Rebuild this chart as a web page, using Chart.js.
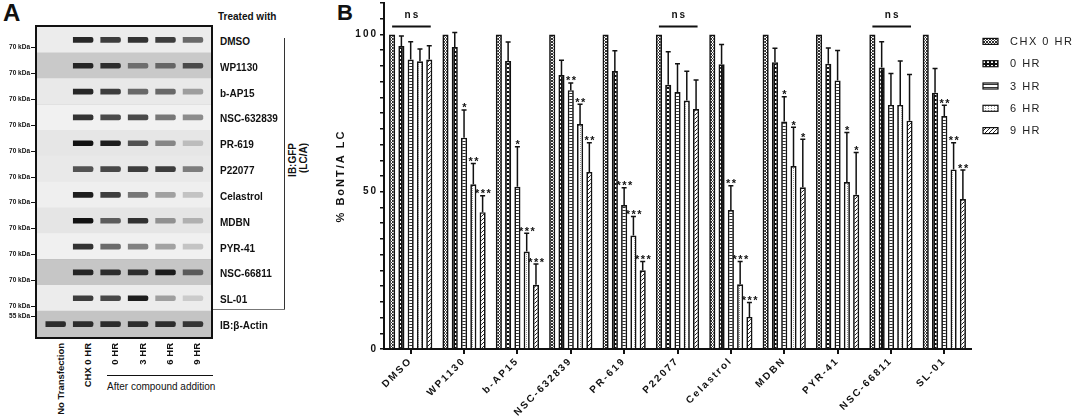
<!DOCTYPE html>
<html>
<head>
<meta charset="utf-8">
<script src="https://cdn.jsdelivr.net/npm/chart.js@4.4.1/dist/chart.umd.min.js"></script>
<style>
  body { margin: 0; background: #fff; font-family: "Liberation Sans", Arial, sans-serif; color: #111; }
  #page { position: relative; width: 1072px; height: 416px; overflow: hidden; }
  .abs { position: absolute; white-space: nowrap; }
  .b { font-weight: bold; }
  #blot { position: absolute; left: 35px; top: 25px; width: 174px; height: 310px; border: 2px solid #111; }
  #chartB { position: absolute; left: 330px; top: 0; width: 742px; height: 416px; }
  .vlab { writing-mode: vertical-rl; transform: rotate(180deg); font: bold 9.5px "Liberation Sans", Arial; line-height: 12px; width: 12px; }
</style>
</head>
<body>
<div id="page">
  <div class="abs b" style="left:3px;top:-1px;font-size:24px;">A</div>
  <div class="abs b" style="left:218px;top:11px;font-size:10px;">Treated with</div>
  <div id="blot"><canvas id="blotChart"></canvas></div>
  <div class="abs" style="left:284px;top:38px;width:1px;height:271px;background:#333;"></div>
  <div class="abs" style="left:213px;top:309px;width:72px;height:1px;background:#777;"></div>
  <div class="abs vlab" style="left:287px;top:143px;font-size:10px;">IB:GFP</div>
  <div class="abs vlab" style="left:298px;top:143px;font-size:10px;">(LC/A)</div>
  <div class="abs" style="left:107px;top:375px;width:106px;height:1px;background:#111;"></div>
  <div class="abs" style="left:107px;top:381px;font-size:10px;">After compound addition</div>
  <div class="abs b" style="left:337px;top:0px;font-size:22px;">B</div>
  <div id="chartB"><canvas id="barChart"></canvas></div>
</div>

<script>
// ---------- panel A data (western blot) ----------
const blotRows = ['DMSO', 'WP1130', 'b-AP15', 'NSC-632839', 'PR-619', 'P22077', 'Celastrol',
                  'MDBN', 'PYR-41', 'NSC-66811', 'SL-01', 'IB:β-Actin'];
const kdaLabels = ['70 kDa', '70 kDa', '70 kDa', '70 kDa', '70 kDa', '70 kDa', '70 kDa',
                   '70 kDa', '70 kDa', '70 kDa', '70 kDa', '55 kDa'];
const lanes = ['No Transfection', 'CHX 0 HR', '0 HR', '3 HR', '6 HR', '9 HR'];
// band darkness per lane (0 = no band), one value per blot row
const laneNoTf = [0, 0, 0, 0, 0, 0, 0, 0, 0, 0, 0, 0.85];
const laneChx  = [0.9, 0.9, 0.9, 0.85, 1, 0.7, 0.95, 1, 0.85, 0.9, 0.8, 0.85];
const lane0    = [0.8, 0.85, 0.8, 0.75, 0.95, 0.75, 0.8, 0.65, 0.6, 0.85, 0.75, 0.85];
const lane3    = [0.85, 0.5, 0.6, 0.75, 0.7, 0.8, 0.55, 0.85, 0.5, 0.85, 0.95, 0.85];
const lane6    = [0.8, 0.55, 0.6, 0.55, 0.45, 0.8, 0.35, 0.4, 0.35, 0.95, 0.35, 0.85];
const lane9    = [0.6, 0.7, 0.35, 0.45, 0.2, 0.5, 0.2, 0.25, 0.2, 0.6, 0.15, 0.8];
const laneValues = [laneNoTf, laneChx, lane0, lane3, lane6, lane9];
const rowShades = ['#ececec', '#c9c9c9', '#e9e9e9', '#f1f1f1', '#e6e6e6', '#e9e9e9', '#efefef',
                   '#e5e5e5', '#f0f0f0', '#c6c6c6', '#ececec', '#c4c4c4'];

// ---------- panel B data ----------
const categories = ['DMSO', 'WP1130', 'b-AP15', 'NSC-632839', 'PR-619', 'P22077', 'Celastrol',
                    'MDBN', 'PYR-41', 'NSC-66811', 'SL-01'];
const seriesNames = ['CHX 0 HR', '0 HR', '3 HR', '6 HR', '9 HR'];
const chx0  = [100, 100, 100, 100, 100, 100, 100, 100, 100, 100, 100];
const hr0   = [96.3, 96, 91.6, 87.1, 88.4, 84, 90.5, 91.2, 90.7, 89.5, 81.5];
const hr3   = [92, 67.2, 51.6, 82.3, 45.8, 81.7, 44.2, 72.3, 85.4, 77.6, 74.1];
const hr6   = [91.5, 52.4, 31, 71.5, 36.1, 79, 20.6, 58.2, 53.1, 77.6, 57.1];
const hr9   = [92, 43.5, 20.4, 56.3, 25, 76.3, 10.2, 51.4, 49, 72.6, 47.7];
const hr0Err = [3.2, 4.6, 6.0, 4.7, 6.4, 10.5, 6.3, 4.4, 5.0, 8.2, 7.7];
const hr3Err = [5.7, 8.8, 12.7, 2.3, 5.5, 9.0, 7.7, 7.9, 9.5, 10.0, 3.4];
const hr6Err = [3.9, 6.6, 5.8, 6.3, 6.0, 9.3, 7.2, 12.3, 15.7, 14.0, 8.5];
const hr9Err = [4.4, 5.2, 6.6, 9.3, 2.8, 9.2, 4.6, 15.3, 13.5, 14.7, 9.2];
const hr3Stars = ['', '*', '*', '**', '***', '', '**', '*', '', '', '**'];
const hr6Stars = ['', '**', '***', '**', '***', '', '***', '*', '*', '', '**'];
const hr9Stars = ['', '***', '***', '**', '***', '', '***', '*', '*', '', '**'];
const nsGroups = ['DMSO', 'P22077', 'NSC-66811'];
const yTickLabels = [0, 50, 100];

const FONT = '"Liberation Sans", Arial, sans-serif';
Chart.defaults.font.family = FONT;
Chart.defaults.color = '#111';

// ---------- panel A ----------
const page = document.getElementById('page');
function addText(txt, css, cls) {
  const d = document.createElement('div');
  d.className = 'abs ' + (cls || '');
  d.textContent = txt;
  Object.assign(d.style, css);
  page.appendChild(d);
  return d;
}

const rowTop = 27, rowH = 310 / 12;
blotRows.forEach((name, i) => {
  const yc = rowTop + (i + 0.5) * rowH;
  addText(name, { left: '220px', top: (yc - 4) + 'px', font: 'bold 10px ' + FONT, lineHeight: '12px' });
  const ky = i === blotRows.length - 1 ? yc - 8.5 : yc + 7.5;
  addText(kdaLabels[i], { right: (1072 - 30) + 'px', top: (ky - 4) + 'px', font: 'bold 6.5px ' + FONT, lineHeight: '8px' });
  addText('', { left: '31px', top: ky + 'px', width: '4px', height: '1px', background: '#111' });
});

// lane labels below the blot
const laneX0 = 60.7, laneStep = 27.3;
lanes.forEach((l, k) => {
  addText(l, { left: (laneX0 + k * laneStep - 6) + 'px', top: '343px' }, 'vlab');
});

const xMin = 0.319, xMax = 6.656;
const blotDatasets = laneValues.map((vals, k) => ({
  band: true,
  data: blotRows.map(() => [k + 1 - 0.36, k + 1 + 0.36]),
  backgroundColor: ctx => 'rgba(18,18,18,' + vals[ctx.dataIndex] + ')',
  grouped: false,
  barThickness: 5,
  borderRadius: 2,
  order: 1
}));
blotDatasets.push({
  data: blotRows.map(() => [xMin, xMax]),
  backgroundColor: rowShades,
  grouped: false,
  categoryPercentage: 1,
  barPercentage: 1,
  order: 5
});

const bandBlur = {
  id: 'bandBlur',
  beforeDatasetDraw(chart, args) {
    if (args.meta._dataset.band) { chart.ctx.save(); chart.ctx.filter = 'blur(0.7px)'; }
  },
  afterDatasetDraw(chart, args) {
    if (args.meta._dataset.band) chart.ctx.restore();
  }
};

new Chart(document.getElementById('blotChart'), {
  type: 'bar',
  data: { labels: blotRows, datasets: blotDatasets },
  options: {
    indexAxis: 'y',
    responsive: true,
    maintainAspectRatio: false,
    animation: false,
    layout: { padding: 0 },
    plugins: { legend: { display: false }, tooltip: { enabled: false } },
    scales: {
      x: { type: 'linear', display: false, min: xMin, max: xMax },
      y: {
        z: 1,
        ticks: { display: false },
        border: { display: false },
        grid: { offset: true, color: '#111', lineWidth: 1.5, drawTicks: false }
      }
    }
  },
  plugins: [bandBlur]
});

// ---------- panel B ----------
function makePattern(kind) {
  const c = document.createElement('canvas');
  const g = c.getContext('2d');
  if (kind === 'chx') {
    c.width = 3; c.height = 3;
    g.fillStyle = '#fff'; g.fillRect(0, 0, 3, 3);
    g.fillStyle = '#333';
    [[0, 0], [2, 0], [1, 1], [0, 2], [2, 2]].forEach(p => g.fillRect(p[0], p[1], 1, 1));
  } else if (kind === 'h0') {
    c.width = 4; c.height = 4;
    g.fillStyle = '#111'; g.fillRect(0, 0, 4, 4);
    g.fillStyle = '#fff'; g.fillRect(1, 1, 2, 2);
  } else if (kind === 'h3') {
    c.width = 3; c.height = 3;
    g.fillStyle = '#fff'; g.fillRect(0, 0, 3, 3);
    g.fillStyle = '#333'; g.fillRect(0, 0, 3, 1);
  } else if (kind === 'h6') {
    c.width = 3; c.height = 2;
    g.fillStyle = '#fff'; g.fillRect(0, 0, 3, 2);
    g.fillStyle = '#999'; g.fillRect(1, 0, 1, 1);
  } else {
    c.width = 4; c.height = 4;
    g.fillStyle = '#fff'; g.fillRect(0, 0, 4, 4);
    g.fillStyle = '#222';
    [[3, 0], [2, 1], [1, 2], [0, 3]].forEach(p => g.fillRect(p[0], p[1], 1, 1));
  }
  return g.createPattern(c, 'repeat');
}

const seriesValues = [chx0, hr0, hr3, hr6, hr9];
const seriesErrors = [null, hr0Err, hr3Err, hr6Err, hr9Err];
const seriesStars = [null, null, hr3Stars, hr6Stars, hr9Stars];
const patternKinds = ['chx', 'h0', 'h3', 'h6', 'h9'];

const barDatasets = seriesNames.map((name, k) => ({
  label: name,
  data: seriesValues[k],
  errors: seriesErrors[k],
  stars: seriesStars[k],
  backgroundColor: makePattern(patternKinds[k]),
  borderColor: '#111',
  borderWidth: 1.7,
  categoryPercentage: 0.87,
  barPercentage: 0.66
}));

const SPACING = '2px';
const letterSpacing = {
  id: 'letterSpacing',
  beforeUpdate(chart) { chart.ctx.letterSpacing = SPACING; },
  beforeDraw(chart) { chart.ctx.letterSpacing = SPACING; }
};

const annotations = {
  id: 'annotations',
  afterDatasetsDraw(chart) {
    const { ctx, scales: { y } } = chart;
    ctx.save();
    ctx.strokeStyle = '#111';
    ctx.fillStyle = '#111';
    ctx.lineWidth = 1.5;
    ctx.textAlign = 'center';
    chart.data.datasets.forEach((ds, di) => {
      if (!ds.errors) return;
      chart.getDatasetMeta(di).data.forEach((bar, i) => {
        const top = y.getPixelForValue(ds.data[i] + ds.errors[i]);
        ctx.beginPath();
        ctx.moveTo(bar.x, bar.y);
        ctx.lineTo(bar.x, top);
        ctx.moveTo(bar.x - 2.5, top);
        ctx.lineTo(bar.x + 2.5, top);
        ctx.stroke();
        if (ds.stars && ds.stars[i]) {
          ctx.font = 'bold 11px ' + FONT;
          ctx.letterSpacing = '1.5px';
          ctx.textBaseline = 'alphabetic';
          ctx.fillText(ds.stars[i], bar.x + 1, top + 1.5);
        }
      });
    });
    // ns brackets
    const first = chart.getDatasetMeta(0), last = chart.getDatasetMeta(chart.data.datasets.length - 1);
    nsGroups.forEach(g => {
      const i = categories.indexOf(g);
      const x0 = first.data[i].x, x1 = last.data[i].x + 1.5;
      const ly = y.getPixelForValue(102.5);
      ctx.lineWidth = 2;
      ctx.beginPath(); ctx.moveTo(x0, ly); ctx.lineTo(x1, ly); ctx.stroke();
      ctx.font = 'bold 10px ' + FONT;
      ctx.letterSpacing = '2px';
      ctx.textBaseline = 'middle';
      ctx.fillText('ns', (x0 + x1) / 2 + 1, y.getPixelForValue(106));
    });
    ctx.restore();
  }
};

const legendBox = {
  id: 'legendBox',
  afterDraw(chart) {
    const { ctx, chartArea } = chart;
    ctx.save();
    ctx.letterSpacing = '1.5px';
    ctx.font = '11px ' + FONT;
    ctx.textBaseline = 'middle';
    chart.data.datasets.forEach((ds, i) => {
      const x = chartArea.right + 12, yc = chartArea.top + 38.4 + i * 22.3;
      ctx.fillStyle = ds.backgroundColor;
      ctx.fillRect(x, yc - 3, 15, 6);
      ctx.strokeStyle = '#111';
      ctx.lineWidth = 1.2;
      ctx.strokeRect(x, yc - 3, 15, 6);
      ctx.fillStyle = '#222';
      ctx.fillText(ds.label, x + 27, yc + 0.5);
    });
    ctx.restore();
  }
};

new Chart(document.getElementById('barChart'), {
  type: 'bar',
  data: { labels: categories, datasets: barDatasets },
  options: {
    responsive: true,
    maintainAspectRatio: false,
    animation: false,
    layout: { padding: { top: 3, right: 101, left: 0, bottom: 0 } },
    plugins: { legend: { display: false }, tooltip: { enabled: false } },
    scales: {
      x: {
        afterFit: s => { s.height = 67; },
        grid: { drawOnChartArea: false, offset: false, tickLength: 5, color: '#111', lineWidth: 2 },
        border: { color: '#111', width: 2 },
        ticks: { autoSkip: false, maxRotation: 45, minRotation: 45, padding: 1,
                 font: { size: 10, weight: 'bold' }, color: '#111' }
      },
      y: {
        min: 0,
        max: 110,
        afterFit: s => { s.width = 54; s.paddingTop = 0; s.paddingBottom = 0; },
        grid: { drawOnChartArea: false, tickLength: 4, color: '#111', lineWidth: 1.5 },
        border: { color: '#111', width: 2 },
        ticks: { stepSize: 5, autoSkip: false, padding: 2,
                 font: { size: 10, weight: 'bold' }, color: '#111',
                 callback: v => yTickLabels.includes(v) ? v : '' },
        title: { display: true, text: '% BoNT/A LC', padding: { top: 4, bottom: 0 },
                 font: { size: 11, weight: 'bold' }, color: '#111' }
      }
    }
  },
  plugins: [letterSpacing, annotations, legendBox]
});
</script>
</body>
</html>
